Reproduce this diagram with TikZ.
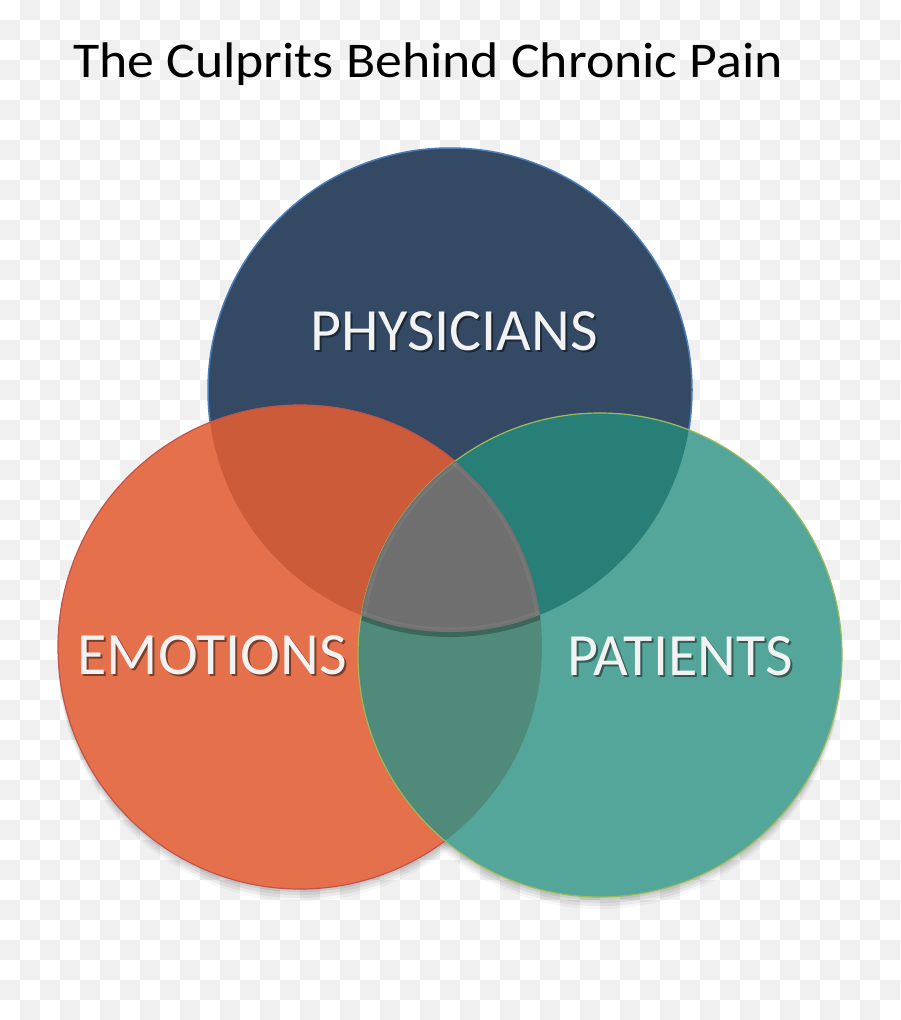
\documentclass[tikz,border=0pt]{standalone}
\usepackage{fontspec}
\setmainfont{Carlito}
\begin{document}
\begin{tikzpicture}[x=1pt,y=-1pt]
\definecolor{chk}{HTML}{F0F0F0}
\definecolor{navy}{HTML}{344A64}
\definecolor{navyline}{HTML}{4A7EBB}
\definecolor{orng}{HTML}{E4704C}
\definecolor{orngline}{HTML}{C4524A}
\definecolor{orngnavy}{HTML}{CC5B3A}
\definecolor{teal}{HTML}{55A69A}
\definecolor{tealline}{HTML}{9BBB59}
\definecolor{tealnavy}{HTML}{287F78}
\definecolor{orngteal}{HTML}{4F8A7A}
\definecolor{midgray}{HTML}{6F6F6F}
\definecolor{txt}{HTML}{F2F2F2}
\tikzset{
  lbl/.style={anchor=base, inner sep=0pt, text=txt, font=\fontsize{60}{70}\selectfont},
  lblshadow/.style={anchor=base, inner sep=0pt, text=black, opacity=0.45, font=\fontsize{60}{70}\selectfont},
}
\useasboundingbox (0,0) rectangle (900,1020);
% checkerboard background
\fill[white] (0,0) rectangle (900,1020);
\foreach \j in {0,...,50}{
  \pgfmathtruncatemacro\s{mod(\j+1,2)}
  \pgfmathtruncatemacro\t{\s+2}
  \foreach \i in {\s,\t,...,44}{
    \fill[chk] (\i*20,\j*20) rectangle ++(20,20);
  }
}
% circle centres
\coordinate (P) at (450,390);
\coordinate (E) at (300,647);
\coordinate (T) at (600,655);
\def\R{242}
% shadows
\foreach \d/\o in {3/0.07,6/0.06,9/0.05,12/0.03}{
  \fill[black,opacity=\o] ([yshift=-\d pt]P) circle (\R);
  \fill[black,opacity=\o] ([yshift=-\d pt]E) circle (\R);
  \fill[black,opacity=\o] ([yshift=-\d pt]T) circle (\R);
}
% physicians
\fill[navy] (P) circle (\R);
\draw[navyline,line width=1.5pt] (P) circle (\R);
% emotions
\fill[orng] (E) circle (\R);
\begin{scope}
  \clip (E) circle (\R);
  \fill[orngnavy] (P) circle (\R);
\end{scope}
\draw[orngline,line width=1.2pt] (E) circle (\R);
% patients
\fill[teal] (T) circle (\R);
\begin{scope}
  \clip (T) circle (\R);
  \fill[tealnavy] (P) circle (\R);
  \fill[orngteal] (E) circle (\R);
  % shadow below centre region
  \clip (E) circle (\R);
  \fill[black,opacity=0.25] ([yshift=-5pt]P) circle (\R);
\end{scope}
\draw[tealline,line width=1.2pt] (T) circle (\R);
% centre region
\begin{scope}
  \clip (P) circle (\R);
  \clip (E) circle (\R);
  \clip (T) circle (\R);
  \fill[midgray] (P) circle (\R);
  \draw[black!60,line width=4pt,opacity=0.5] (P) circle (\R);
  \draw[black!60,line width=4pt,opacity=0.5] (E) circle (\R);
  \draw[black!60,line width=4pt,opacity=0.5] (T) circle (\R);
  \draw[white,line width=9pt,opacity=0.06] (P) circle (\R);
  \draw[white,line width=9pt,opacity=0.06] (E) circle (\R);
  \draw[white,line width=9pt,opacity=0.06] (T) circle (\R);
\end{scope}
% title
\node[anchor=base west, inner sep=0pt, text=black, font=\fontsize{50}{60}\selectfont] (title) at (73,77) {\scalebox{1.075}[1]{The Culprits Behind Chronic Pain}};
% labels
\node[lblshadow] (physs) at (456,352) {PHYSICIANS};
\node[lbl] (phys) at (454,350) {PHYSICIANS};
\node[lblshadow] (emos) at (214,676) {EMOTIONS};
\node[lbl] (emo) at (212,674) {EMOTIONS};
\node[lblshadow] (pats) at (682,677) {PATIENTS};
\node[lbl] (pat) at (680,675) {PATIENTS};
\end{tikzpicture}
\end{document}
